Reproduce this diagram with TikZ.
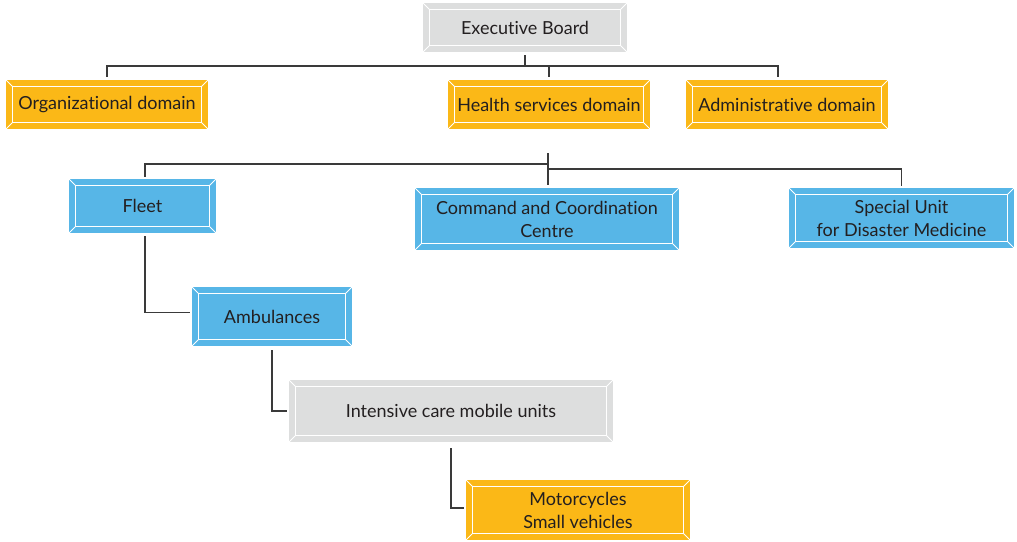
\documentclass[tikz,border=0pt]{standalone}
\usepackage{fontspec}
\setmainfont[Ligatures=NoCommon]{Lato}
\definecolor{domorange}{HTML}{FBB817}
\definecolor{unitblue}{HTML}{57B6E7}
\definecolor{boardgray}{HTML}{DDDEDE}
\definecolor{labelgray}{HTML}{231F20}
\definecolor{linkgray}{HTML}{3A3A3A}
\tikzset{
  bevelbox/.style={fill=#1, inner sep=0, align=center, text=labelgray,
    font=\fontsize{18}{23}\selectfont,
    path picture={
      \draw[white, line width=1pt] ([shift={(6.5pt,6.5pt)}]path picture bounding box.south west)
        rectangle ([shift={(-6.5pt,-6.5pt)}]path picture bounding box.north east);
      \draw[white, line width=1pt] (path picture bounding box.south west) -- ++(6.5pt,6.5pt);
      \draw[white, line width=1pt] (path picture bounding box.south east) -- ++(-6.5pt,6.5pt);
      \draw[white, line width=1pt] (path picture bounding box.north west) -- ++(6.5pt,-6.5pt);
      \draw[white, line width=1pt] (path picture bounding box.north east) -- ++(-6.5pt,-6.5pt);
    }},
  link/.style={draw=linkgray, line width=1.3pt},
}
\begin{document}
\begin{tikzpicture}[x=1pt, y=-1pt]
\useasboundingbox (0,0) rectangle (1017,541);
% boxes: name/centre x/centre y/width/height/colour/label
\foreach \n/\x/\y/\w/\h/\c/\t in {
    exec/525/27.5/204/49/boardgray/Executive Board,
    org/107/104.5/202/49/domorange/Organizational domain,
    health/549/104.5/202/49/domorange/Health services domain,
    admin/787/104.5/202/49/domorange/Administrative domain,
    fleet/142.5/206/147/54/unitblue/Fleet,
    ccc/547/219/264/62/unitblue/{Command and Coordination\\Centre},
    special/901.5/218/225/60/unitblue/{Special Unit\\for Disaster Medicine},
    amb/272/316.5/160/59/unitblue/Ambulances,
    icmu/451/411/324/62/boardgray/Intensive care mobile units,
    moto/578/510/224/60/domorange/{Motorcycles\\Small vehicles}}{
    \node[bevelbox=\c, minimum width=\w pt, minimum height=\h pt] (\n) at (\x,\y) {\t};
}

% first level
\coordinate (top bar) at (525,66);
\draw[link, shorten <=3pt] (exec) -- (top bar);
\draw[link, shorten <=3pt, shorten >=3pt] (org) |- (top bar) -| ([xshift=-9pt]admin.north);
\draw[link, shorten >=3pt] (top bar) -| (health.north);

% second level
\coordinate (mid hub) at (548,153);
\coordinate (left bar) at (548,164);
\coordinate (right bar) at (548,169);
\draw[link, shorten >=3pt] (mid hub) -- (mid hub |- ccc.north);
\draw[link, shorten >=2pt] (left bar) -| ([xshift=2.5pt]fleet.north);
\draw[link, shorten >=2pt] (right bar) -| (special.north);

% fleet chain
\draw[link, shorten <=3pt, shorten >=2pt] ([xshift=2.5pt]fleet.south) |- ([yshift=4pt]amb.west);
\draw[link, shorten <=4pt, shorten >=2pt] (amb.south) |- (icmu.west);
\draw[link, shorten <=6pt, shorten >=2pt] (icmu.south) |- ([yshift=2pt]moto.west);
\end{tikzpicture}
\end{document}
